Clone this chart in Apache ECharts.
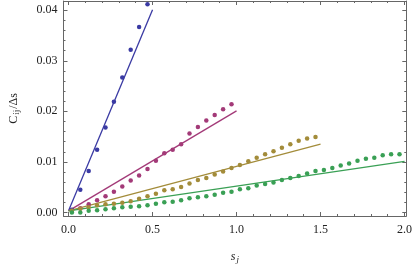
<!DOCTYPE html>
<html><head><meta charset="utf-8">
<script src="https://cdn.jsdelivr.net/npm/echarts@6/dist/echarts.min.js"></script>
<style>html,body{margin:0;padding:0;background:#fff}#c{width:415px;height:269px}</style>
</head><body><div id="c"></div>
<script>
// ---- data ----
const blueX = [0.02,0.07,0.12,0.17,0.22,0.27,0.32,0.37,0.42,0.47];
const blueY = [0.0005,0.0045,0.0082,0.0124,0.0168,0.0219,0.0267,0.0322,0.0367,0.0412];
const magentaX = [0.02,0.07,0.12,0.17,0.22,0.27,0.32,0.37,0.42,0.47,0.52,0.57,0.62,0.67,0.72,0.77,0.82,0.87,0.92,0.97];
const magentaY = [0.0003,0.0008,0.0016,0.0024,0.0032,0.0041,0.0051,0.0063,0.0073,0.0086,0.0102,0.0117,0.0124,0.0135,0.0156,0.0169,0.0182,0.0193,0.0204,0.0214];
const goldX = [0.02,0.07,0.12,0.17,0.22,0.27,0.32,0.37,0.42,0.47,0.52,0.57,0.62,0.67,0.72,0.77,0.82,0.87,0.92,0.97,1.02,1.07,1.12,1.17,1.22,1.27,1.32,1.37,1.42,1.47];
const goldY = [0.0003,0.0007,0.0010,0.0014,0.0016,0.0017,0.0019,0.0022,0.0027,0.0032,0.0037,0.0044,0.0046,0.0050,0.0057,0.0064,0.0068,0.0075,0.0081,0.0088,0.0094,0.0101,0.0108,0.0115,0.0121,0.0128,0.0135,0.0142,0.0146,0.0149];
const greenX = [0.02,0.07,0.12,0.17,0.22,0.27,0.32,0.37,0.42,0.47,0.52,0.57,0.62,0.67,0.72,0.77,0.82,0.87,0.92,0.97,1.02,1.07,1.12,1.17,1.22,1.27,1.32,1.37,1.42,1.47,1.52,1.57,1.62,1.67,1.72,1.77,1.82,1.87,1.92,1.97];
const greenY = [0.0000,0.0000,0.0003,0.0004,0.0006,0.0008,0.0010,0.0011,0.0012,0.0014,0.0017,0.0020,0.0021,0.0024,0.0028,0.0030,0.0032,0.0035,0.0039,0.0041,0.0046,0.0048,0.0053,0.0056,0.0059,0.0064,0.0068,0.0072,0.0077,0.0082,0.0084,0.0088,0.0093,0.0097,0.0102,0.0106,0.0108,0.0113,0.0115,0.0115];
// fitted lines (start, end)
const blueLine = [[0,0.0003],[0.5,0.0401]];
const magentaLine = [[0,0.0003],[1.0,0.0201]];
const goldLine = [[0,0.0003],[1.5,0.0135]];
const greenLine = [[0,0.0003],[2.0,0.0101]];
// ticks
const xMajor = [0,0.5,1.0,1.5,2.0];
const xMinor = [0.1,0.2,0.3,0.4,0.6,0.7,0.8,0.9,1.1,1.2,1.3,1.4,1.6,1.7,1.8,1.9];
const yMajor = [0,0.01,0.02,0.03,0.04];
const yMinor = [0.002,0.004,0.006,0.008,0.012,0.014,0.016,0.018,0.022,0.024,0.026,0.028,0.032,0.034,0.036,0.038];

// ---- chart ----
const colors = {blue:'#3a3aa3', magenta:'#a33a78', gold:'#a38c3a', green:'#3aa055'};
const zip = (xs, ys) => xs.map((x,i)=>[x, ys[i]]);
const XMIN=-0.03, XMAX=2.0104, YMIN=-0.000716, YMAX=0.04184;
const frame = '#666';
const font = 'Liberation Serif';
function xa(pos, vals, len, labels, line){
  return {type:'value', position:pos, min:XMIN, max:XMAX,
    axisLine:{show:line, onZero:false, lineStyle:{color:frame,width:1}},
    axisTick:{show:true, inside:true, length:len, customValues:vals, lineStyle:{color:frame,width:1}},
    axisLabel:labels?{show:true, customValues:vals, margin:8, fontFamily:font, fontSize:12, color:'#222', formatter:v=>v.toFixed(1)}:{show:false},
    splitLine:{show:false}};
}
function ya(pos, vals, len, labels, line){
  return {type:'value', position:pos, min:YMIN, max:YMAX,
    axisLine:{show:line, onZero:false, lineStyle:{color:frame,width:1}},
    axisTick:{show:true, inside:true, length:len, customValues:vals, lineStyle:{color:frame,width:1}},
    axisLabel:labels?{show:true, customValues:vals, margin:6, fontFamily:font, fontSize:12, color:'#222', formatter:v=>v.toFixed(2)}:{show:false},
    splitLine:{show:false}};
}
const xAxes=[xa('bottom',xMajor,4,true,true), xa('bottom',xMinor,2,false,false), xa('top',xMajor,4,false,true), xa('top',xMinor,2,false,false)];
xAxes[0].name='{s|s}{j|j}'; xAxes[0].nameLocation='middle'; xAxes[0].nameGap=33;
xAxes[0].nameTextStyle={rich:{s:{fontFamily:font,fontStyle:'italic',fontSize:12,color:'#222'},j:{fontFamily:font,fontStyle:'italic',fontSize:9,color:'#222',verticalAlign:'bottom',padding:[6,0,0,1]}}};
const yAxes=[ya('left',yMajor,4,true,true), ya('left',yMinor,2,false,false), ya('right',yMajor,4,false,true), ya('right',yMinor,2,false,false)];
yAxes[0].name='{c|C}{ij|ij}{d|/Δs}'; yAxes[0].nameLocation='middle'; yAxes[0].nameGap=42; yAxes[0].nameRotate=90;
yAxes[0].nameTextStyle={rich:{c:{fontFamily:font,fontSize:12,color:'#222'},ij:{fontFamily:font,fontSize:9,color:'#222',padding:[6,1,0,1]},d:{fontFamily:font,fontSize:12,color:'#222'}}};

function scat(name, xs, ys, c){return {name, type:'scatter', xAxisIndex:0, yAxisIndex:0, data:zip(xs,ys), symbol:'circle', symbolSize:4.5, itemStyle:{color:c, opacity:1}, silent:true, animation:false, z:3};}
function ln(name, d, c){return {name, type:'line', xAxisIndex:0, yAxisIndex:0, data:d, showSymbol:false, lineStyle:{color:c,width:1.3}, silent:true, animation:false, z:2};}

const chart = echarts.init(document.getElementById('c'), null, {renderer:'canvas'});
chart.setOption({
  animation:false,
  grid:{left:55, right:7, top:1, bottom:48},
  xAxis:xAxes, yAxis:yAxes,
  series:[
    ln('blueFit', blueLine, colors.blue),
    ln('magentaFit', magentaLine, colors.magenta),
    ln('goldFit', goldLine, colors.gold),
    ln('greenFit', greenLine, colors.green),
    scat('blue', blueX, blueY, colors.blue),
    scat('magenta', magentaX, magentaY, colors.magenta),
    scat('gold', goldX, goldY, colors.gold),
    scat('green', greenX, greenY, colors.green)
  ]
});
</script></body></html>
